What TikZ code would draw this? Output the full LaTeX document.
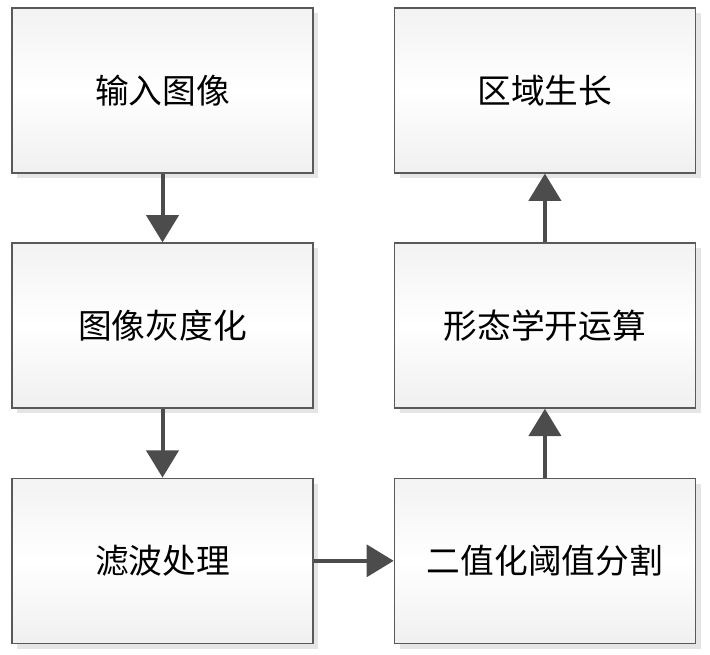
\documentclass[tikz,border=0pt]{standalone}
\usepackage{fontspec}
\newfontfamily\cjk{Noto Sans CJK SC}
\usepackage{tikz}
\usetikzlibrary{arrows.meta, positioning, shadows}
\tikzset{
  box/.style={draw=black!65, line width=1pt, top color=gray!10, bottom color=gray!12, middle color=white,
    minimum width=7.525cm, minimum height=4.125cm, inner sep=0pt,
    drop shadow={shadow xshift=0.13cm, shadow yshift=-0.13cm, fill=black!10, opacity=1},
    font=\cjk\fontsize{24}{28}\selectfont},
  arr/.style={-{Triangle[length=0.68cm, width=0.8cm]}, line width=0.1cm, draw=black!70},
}

\begin{document}
\begin{tikzpicture}[node distance=1.72cm and 2cm]
    \useasboundingbox (0,0) rectangle (17.75,-16.375);
    \node[box] (input) at (4.0625,-2.26) {输入图像};
    \node[box, below=of input] (gray) {图像灰度化};
    \node[box, below=of gray] (filter) {滤波处理};
    \node[box, right=of filter] (thresh) {二值化阈值分割};
    \node[box, above=of thresh] (morph) {形态学开运算};
    \node[box, above=of morph] (grow) {区域生长};
    \draw[arr] (input) -- (gray);
    \draw[arr] (gray) -- (filter);
    \draw[arr] (filter) -- (thresh);
    \draw[arr] (thresh) -- (morph);
    \draw[arr] (morph) -- (grow);
  \end{tikzpicture}
\end{document}
